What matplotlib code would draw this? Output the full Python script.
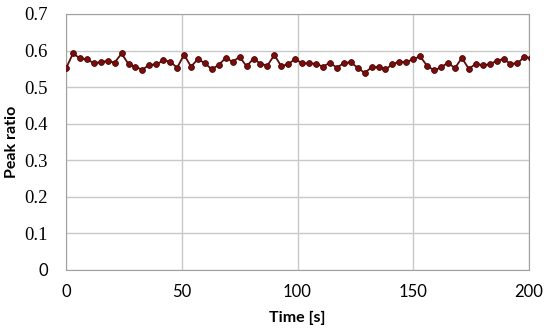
import matplotlib
matplotlib.use("Agg")
import matplotlib.pyplot as plt

# time [s] sampled every 3 s (last sample runs past the axis end)
time_s = [0, 3, 6, 9, 12, 15, 18, 21, 24, 27, 30, 33, 36, 39, 42, 45, 48, 51,
          54, 57, 60, 63, 66, 69, 72, 75, 78, 81, 84, 87, 90, 93, 96, 99, 102,
          105, 108, 111, 114, 117, 120, 123, 126, 129, 132, 135, 138, 141, 144,
          147, 150, 153, 156, 159, 162, 165, 168, 171, 174, 177, 180, 183, 186,
          189, 192, 195, 198, 201]
peak_ratio = [0.551, 0.592, 0.579, 0.576, 0.566, 0.568, 0.572, 0.567, 0.592,
              0.563, 0.555, 0.548, 0.561, 0.562, 0.573, 0.570, 0.553, 0.589,
              0.556, 0.577, 0.565, 0.549, 0.561, 0.580, 0.569, 0.583, 0.557,
              0.578, 0.564, 0.559, 0.588, 0.557, 0.563, 0.577, 0.565, 0.565,
              0.564, 0.556, 0.567, 0.553, 0.566, 0.568, 0.553, 0.539, 0.554,
              0.555, 0.549, 0.562, 0.570, 0.568, 0.577, 0.584, 0.558, 0.546,
              0.554, 0.567, 0.552, 0.580, 0.550, 0.564, 0.560, 0.562, 0.572,
              0.577, 0.564, 0.565, 0.583, 0.579]

x_ticks = [0, 50, 100, 150, 200]
y_ticks = [0, 0.1, 0.2, 0.3, 0.4, 0.5, 0.6, 0.7]
y_labels = ['0', '0.1', '0.2', '0.3', '0.4', '0.5', '0.6', '0.7']

fig = plt.figure(figsize=(5.5, 3.31), dpi=100)
ax = fig.add_axes([66 / 550, 1 - 270 / 331, 463 / 550, 256 / 331])

ax.plot(time_s, peak_ratio, '-', color='#5c0a0a', lw=1.3,
        marker='o', ms=4.2, mfc='#7a0c0c', mec='#4a0606', mew=0.6,
        clip_on=True, zorder=3)

ax.set_xlim(0, 200)
ax.set_ylim(0, 0.7)
ax.set_xticks(x_ticks)
ax.set_yticks(y_ticks)
ax.set_yticklabels(y_labels)
ax.grid(True, color='#c8c8c8', lw=1.0)
ax.set_axisbelow(True)
for s in ax.spines.values():
    s.set_color('#a0a0a0')
ax.tick_params(axis='x', length=0, pad=10)
ax.tick_params(axis='y', length=0, pad=13)

for lab in ax.get_xticklabels():
    lab.set_fontfamily('Lato')
    lab.set_fontsize(12)
for lab in ax.get_yticklabels():
    if lab.get_text() == '0':
        lab.set_fontfamily('Lato')
        lab.set_fontsize(12)
    else:
        lab.set_fontfamily('Liberation Serif')
        lab.set_fontsize(13.5)

ax.set_xlabel('Time [s]', fontfamily='Lato', fontweight='bold', fontsize=11.5, labelpad=8)
ax.set_ylabel('Peak ratio', fontfamily='Lato', fontweight='bold', fontsize=11.5, labelpad=4)

fig.savefig('out.png', dpi=100)
